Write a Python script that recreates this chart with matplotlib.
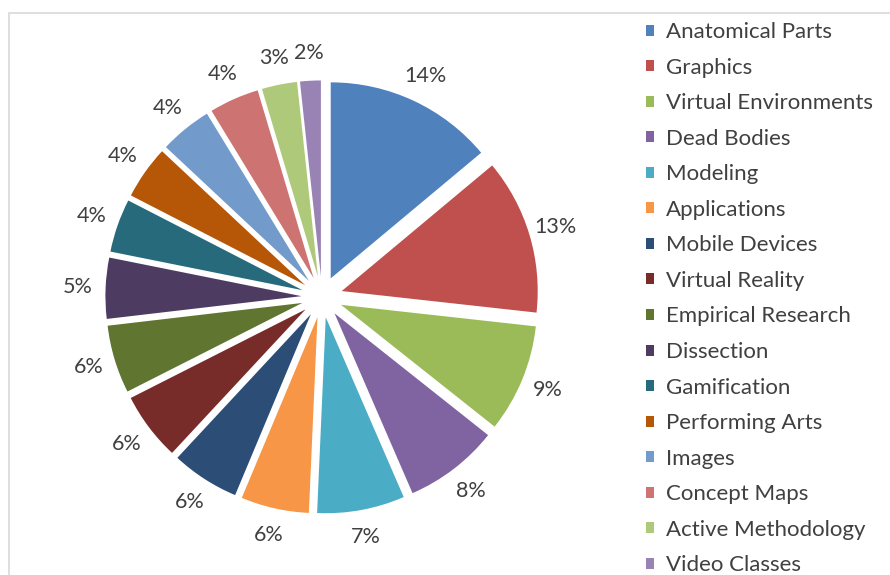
import matplotlib
matplotlib.use("Agg")
import matplotlib.pyplot as plt
from matplotlib.patches import Rectangle

plt.rcParams['font.family'] = ['Lato', 'DejaVu Sans']

# categories in the order Excel draws them (clockwise from 12 o'clock)
categories = ["Anatomical Parts", "Graphics", "Virtual Environments", "Dead Bodies",
              "Modeling", "Applications", "Mobile Devices", "Virtual Reality",
              "Empirical Research", "Dissection", "Gamification", "Performing Arts",
              "Images", "Concept Maps", "Active Methodology", "Video Classes"]
# shares in percent
shares = [13.9, 12.8, 8.9, 7.8, 7.2, 5.6, 5.6, 5.6, 5.6, 5.0, 4.4, 4.4, 4.3, 4.1, 2.9, 1.7]
colors = ["#4F81BD", "#C0504D", "#9BBB59", "#8064A2", "#4BACC6", "#F79646",
          "#2C4D75", "#772C2A", "#5F7530", "#4D3B62", "#276A7C", "#B65708",
          "#729ACA", "#CD7371", "#AFC97A", "#9983B5"]

W, H = 890, 575
fig = plt.figure(figsize=(W / 100, H / 100), dpi=100)

# chart area border (runs off the right and bottom edges)
fig.patches.append(Rectangle((9 / W, -0.1), 1.2, 1.1 - 13 / H, transform=fig.transFigure,
                             fill=False, edgecolor="#D9D9D9", linewidth=1.2))

R_px = 196
L = 1.4
S = 2 * L * R_px
cx, cy = 322, H - 297
ax = fig.add_axes([(cx - S / 2) / W, (cy - S / 2) / H, S / W, S / H])

wedges, texts, autotexts = ax.pie(
    shares, colors=colors, startangle=90, counterclock=False,
    explode=[0.105] * len(shares), radius=1,
    autopct=lambda p: "%d%%" % round(p), pctdistance=1.14,
    textprops=dict(fontsize=15.5, color="#404040"),
    wedgeprops=dict(linewidth=0))
ax.set_xlim(-L, L)
ax.set_ylim(-L, L)
ax.set_aspect("equal")
ax.axis("off")

leg = fig.legend(wedges, categories, loc="upper left",
                 bbox_to_anchor=(646 / W, 1 - 22 / H), frameon=False,
                 fontsize=16, labelcolor="#404040",
                 handlelength=0.38, handleheight=0.38, handletextpad=0.52,
                 labelspacing=0.70, borderaxespad=0, borderpad=0)

fig.savefig("out.png", dpi=100)
